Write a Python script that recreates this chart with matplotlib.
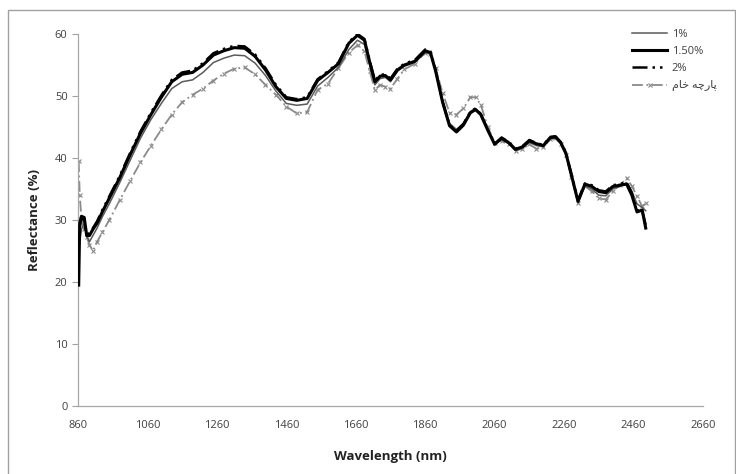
import matplotlib.pyplot as plt
from matplotlib.patches import Rectangle

# wavelength grid (nm) shared by all four spectra
wavelength = [862, 865, 870, 878, 885, 893, 903, 915, 930, 950, 980, 1010, 1040, 1070, 1100,
              1130, 1160, 1190, 1220, 1250, 1280, 1310, 1340, 1370, 1400, 1430, 1460, 1490,
              1520, 1550, 1580, 1610, 1640, 1665, 1685, 1700, 1715, 1730, 1745, 1760, 1780,
              1800, 1830, 1860, 1875, 1890, 1910, 1930, 1950, 1970, 1990, 2005, 2020, 2040,
              2060, 2080, 2100, 2120, 2140, 2160, 2180, 2200, 2220, 2235, 2250, 2265, 2280,
              2300, 2320, 2340, 2360, 2380, 2400, 2420, 2440, 2455, 2470, 2485, 2495]

refl_1 = [None, 26.5, 28.5, 29.5, 27.3, 26.5, 27.5, 28.7, 30.5, 32.6, 36.0, 39.6, 43.2, 46.2, 48.8,
          51.2, 52.3, 52.6, 53.8, 55.4, 56.1, 56.6, 56.5, 55.3, 53.3, 50.8, 48.8, 48.5,
          48.7, 51.6, 53.0, 54.6, 57.5, 59.0, 58.3, 55.0, 51.8, 52.8, 53.0, 52.3, 54.0,
          54.8, 55.4, 57.0, 56.8, 54.0, 49.3, 45.6, 44.6, 45.6, 47.5, 48.0, 47.2, 44.6,
          42.2, 43.0, 42.3, 41.2, 41.6, 42.5, 42.0, 41.8, 43.1, 43.3, 42.4, 40.6, 37.3,
          32.8, 35.5, 35.0, 34.0, 33.9, 35.0, 35.4, 36.0, 34.6, 32.6, 32.0, 31.5]

refl_15 = [19.5, 29.5, 30.6, 30.4, 27.5, 27.5, 28.5, 29.5, 31.3, 33.5, 36.8, 40.5, 44.0, 47.0, 49.8,
           52.3, 53.5, 53.8, 55.0, 56.6, 57.3, 57.8, 57.7, 56.4, 54.2, 51.5, 49.6, 49.3,
           49.6, 52.5, 53.8, 55.2, 58.5, 59.8, 59.0, 55.5, 52.3, 53.2, 53.3, 52.6, 54.2,
           55.0, 55.6, 57.3, 57.0, 54.0, 49.0, 45.2, 44.2, 45.3, 47.3, 47.8, 47.0, 44.5,
           42.2, 43.2, 42.5, 41.4, 41.8, 42.8, 42.3, 42.0, 43.3, 43.4, 42.5, 40.8, 37.5,
           33.0, 35.8, 35.4, 34.6, 34.4, 35.4, 35.6, 35.8, 34.0, 31.3, 31.6, 28.7]

refl_2 = [None, 28.8, 30.3, 30.0, 27.8, 27.8, 28.7, 29.8, 31.6, 33.8, 37.1, 40.8, 44.3, 47.3, 50.1,
          52.6, 53.8, 54.1, 55.3, 56.9, 57.6, 58.1, 58.0, 56.7, 54.5, 51.8, 49.8, 49.5,
          49.8, 52.7, 54.0, 55.4, 58.7, 60.0, 59.2, 55.7, 52.5, 53.4, 53.5, 52.8, 54.4,
          55.2, 55.8, 57.5, 57.2, 54.2, 49.1, 45.3, 44.4, 45.5, 47.5, 48.0, 47.1, 44.6,
          42.3, 43.3, 42.6, 41.5, 41.9, 42.9, 42.4, 42.1, 43.4, 43.5, 42.6, 40.9, 37.6,
          33.2, 35.9, 35.6, 34.8, 34.6, 35.6, 35.8, 36.1, 34.4, 31.6, 31.4, 29.2]

refl_raw = [39.5, 34.0, 30.2, 28.5, 27.3, 26.0, 25.0, 26.5, 28.0, 30.0, 33.2, 36.3, 39.3, 42.0, 44.6,
            47.0, 49.0, 50.2, 51.2, 52.5, 53.6, 54.4, 54.6, 53.5, 51.8, 50.2, 48.3, 47.2,
            47.4, 51.0, 52.0, 54.5, 57.0, 58.2, 57.2, 54.0, 51.0, 51.8, 51.5, 51.2, 52.8,
            54.3, 55.2, 57.0, 56.8, 54.5, 50.5, 47.3, 47.0, 48.0, 49.8, 49.8, 48.6, 45.0,
            42.5, 42.8, 42.2, 41.2, 41.5, 42.2, 41.5, 41.7, 43.0, 43.2, 42.3, 40.5, 37.0,
            32.8, 35.5, 34.6, 33.5, 33.3, 34.6, 35.6, 36.7, 35.5, 33.8, 32.2, 32.7]

xticks = [860, 1060, 1260, 1460, 1660, 1860, 2060, 2260, 2460, 2660]
yticks = [0, 10, 20, 30, 40, 50, 60]

# "پارچه خام" written with presentation forms in visual order (no shaping in matplotlib)
raw_label = "\uFEE1\uFE8E\uFEA7 \uFEEA\uFB7C\uFEAD\uFE8E\uFB58"


def to_xy(w, v):
    pts = [(a, b) for a, b in zip(w, v) if b is not None]
    return [p[0] for p in pts], [p[1] for p in pts]


def main():
    plt.rcParams['font.family'] = ['Open Sans', 'DejaVu Sans']
    fig = plt.figure(figsize=(7.36, 4.74), dpi=100)
    ax = fig.add_axes([78 / 736, 68 / 474, 625 / 736, 372 / 474])

    x, y = to_xy(wavelength, refl_raw)
    ax.plot(x, y, color='#8a8a8a', lw=1.3, ls=(0, (6, 2, 1, 2)), marker='x', ms=3,
            mew=0.8, label=raw_label, zorder=2)
    x, y = to_xy(wavelength, refl_1)
    ax.plot(x, y, color='#5a5a5a', lw=1.1, label='1%', zorder=3)
    x, y = to_xy(wavelength, refl_15)
    ax.plot(x, y, color='black', lw=2.2, label='1.50%', zorder=4)
    x, y = to_xy(wavelength, refl_2)
    ax.plot(x, y, color='black', lw=1.8, ls=(0, (6, 2, 1, 2, 1, 2)), label='2%', zorder=5)

    ax.set_xlim(860, 2660)
    ax.set_ylim(0, 60)
    ax.set_xticks(xticks)
    ax.set_yticks(yticks)
    ax.tick_params(axis='both', colors='#a0a0a0', labelcolor='#404040', labelsize=8,
                   length=4, width=0.8)
    ax.tick_params(axis='x', length=0, pad=10)
    for side in ['top', 'right']:
        ax.spines[side].set_visible(False)
    for side in ['left', 'bottom']:
        ax.spines[side].set_color('#a8a8a8')
        ax.spines[side].set_linewidth(0.9)

    ax.set_ylabel('Reflectance (%)', fontsize=9.5, fontweight='bold', color='#222222', labelpad=10)
    ax.set_xlabel('Wavelength (nm)', fontsize=9.5, fontweight='bold', color='#222222', labelpad=14)

    handles, labels = ax.get_legend_handles_labels()
    order = [1, 2, 3, 0]
    leg = ax.legend([handles[i] for i in order], [labels[i] for i in order],
                    loc='upper left', bbox_to_anchor=(0.87, 1.04), frameon=False,
                    fontsize=8, handlelength=3.2, handletextpad=0.4, labelspacing=0.55,
                    prop={'family': ['Open Sans', 'DejaVu Sans'], 'size': 8})
    for t in leg.get_texts():
        t.set_color('#404040')

    # grey frame around the whole figure as in the source image
    fig.patches.append(Rectangle((8 / 736, -0.01), 727 / 736, (474 - 10) / 474 + 0.01,
                                 transform=fig.transFigure, fill=False,
                                 edgecolor='#a0a0a0', lw=1.0))

    fig.savefig('out.png', dpi=100)


if __name__ == '__main__':
    main()
